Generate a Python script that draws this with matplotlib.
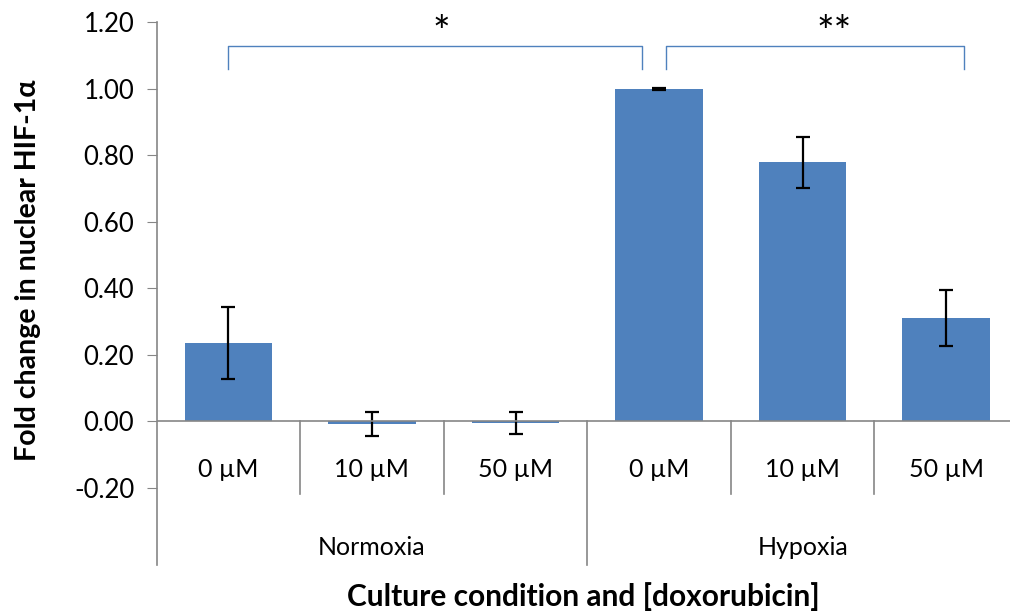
import matplotlib.pyplot as plt

# data
conditions = ["Normoxia", "Hypoxia"]
doses = ["0 µM", "10 µM", "50 µM", "0 µM", "10 µM", "50 µM"]
fold_change = [0.235, -0.008, -0.007, 1.00, 0.778, 0.310]
errors = [0.109, 0.036, 0.033, 0.003, 0.078, 0.085]

plt.rcParams['font.family'] = ['Lato', 'DejaVu Sans']

fig = plt.figure(figsize=(10.10, 6.12), dpi=100)
ax = fig.add_axes([0.155, 0.0768, 0.853, 0.887])

x = list(range(len(doses)))
ax.bar(x, fold_change, width=0.61, color='#4F81BD', zorder=2)
ax.errorbar(x, fold_change, yerr=errors, fmt='none', ecolor='black',
            elinewidth=1.6, capsize=5, capthick=1.6, zorder=3)

ax.set_xlim(-0.5, 5.5)
ax.set_ylim(-0.433, 1.2)
ax.set_yticks([-0.2, 0, 0.2, 0.4, 0.6, 0.8, 1.0, 1.2])
ax.set_yticklabels(['%.2f' % v for v in ax.get_yticks()], fontsize=18.5)
ax.tick_params(axis='y', direction='out', length=7, color='#868686', pad=9)
ax.set_xticks([])
for s in ['top', 'right', 'bottom']:
    ax.spines[s].set_visible(False)
ax.spines['left'].set_color('#868686')
ax.spines['left'].set_linewidth(1.2)

# category axis at zero with two-level labels
ax.axhline(0, color='#868686', lw=1.2, zorder=4)
for b in [0.5, 1.5, 3.5, 4.5]:
    ax.plot([b, b], [0, -0.22], color='#868686', lw=1.2, clip_on=False)
ax.plot([2.5, 2.5], [0, -0.433], color='#868686', lw=1.2, clip_on=False)
for i, d in enumerate(doses):
    ax.text(i, -0.147, d, ha='center', va='center', fontsize=18)
for j, c in enumerate(conditions):
    ax.text(1 + 3 * j, -0.379, c, ha='center', va='center', fontsize=18)

# significance brackets
br = '#4F81BD'
ax.plot([0, 0, 2.88, 2.88], [1.059, 1.129, 1.129, 1.059], color=br, lw=1, clip_on=False)
ax.plot([3.05, 3.05, 5.12, 5.12], [1.059, 1.129, 1.129, 1.059], color=br, lw=1, clip_on=False)
ax.text(1.48, 1.165, '*', ha='center', va='center', fontsize=30)
ax.text(4.22, 1.165, '**', ha='center', va='center', fontsize=30)

fig.text(28 / 1010, 1 - 270 / 612, 'Fold change in nuclear HIF-1α', rotation=90,
         ha='center', va='center', fontsize=20.5, fontweight='bold')
fig.text(583 / 1010, 1 - 597 / 612, 'Culture condition and [doxorubicin]',
         ha='center', va='center', fontsize=21.5, fontweight='bold')

plt.savefig('out.png', dpi=100)
